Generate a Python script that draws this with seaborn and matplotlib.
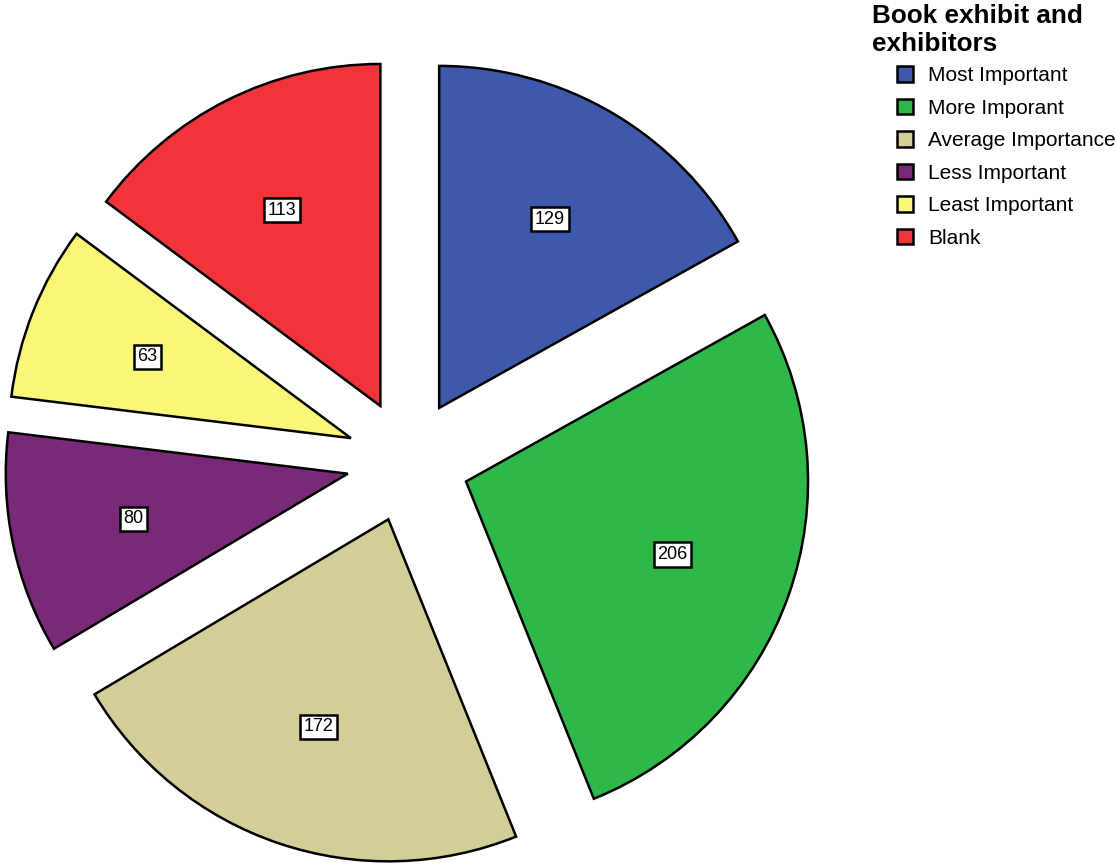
import matplotlib
matplotlib.use('Agg')
import matplotlib.pyplot as plt
import matplotlib.patches as mpatches
import seaborn as sns

# Data
categories = ['Most Important', 'More Imporant', 'Average Importance',
              'Less Important', 'Least Important', 'Blank']
counts = [129, 206, 172, 80, 63, 113]
colors = ['#3e59ac', '#2eb84a', '#d3ce97', '#7a2878', '#f9f777', '#f0343a']

sns.set_theme(style='white')
plt.rcParams['font.family'] = ['Liberation Sans', 'DejaVu Sans']
plt.rcParams['text.color'] = 'black'

fig = plt.figure(figsize=(11.17, 8.65), dpi=100)
ax = fig.add_axes([0, 0, 1, 1])

# pie centre at pixel (408, 461), radius 342 px
ppu = 342.0
cx, cy = 408.0, 461.0
W, H = 1117.0, 865.0

wedges, texts = ax.pie(
    counts, colors=colors, startangle=90, counterclock=False,
    explode=[0.18] * len(counts), labels=[str(c) for c in counts],
    labeldistance=0.64, radius=1.0,
    wedgeprops=dict(edgecolor='black', linewidth=1.8),
    textprops=dict(fontsize=13, color='black', ha='center', va='center'),
)
for t in texts:
    t.set_bbox(dict(boxstyle='square,pad=0.2', facecolor='white',
                    edgecolor='black', linewidth=1.8))

ax.set_xlim(-cx / ppu, (W - cx) / ppu)
ax.set_ylim(-(H - cy) / ppu, cy / ppu)
ax.set_aspect('auto')
ax.axis('off')

# Legend
fig.text(872 / W, 1 - 4 / H, 'Book exhibit and\nexhibitors', fontsize=18.8,
         fontweight='bold', ha='left', va='top', color='black',
         linespacing=1.2)
handles = [mpatches.Patch(facecolor=c, edgecolor='black', linewidth=1.8)
           for c in colors]
leg = fig.legend(handles, categories, loc='upper left',
                 bbox_to_anchor=(897 / W, 1 - 66 / H), frameon=False,
                 fontsize=15, handlelength=0.77, handleheight=0.77,
                 handletextpad=0.72, labelspacing=0.65, borderpad=0,
                 borderaxespad=0)
for t in leg.get_texts():
    t.set_color('black')

fig.savefig('out.png', dpi=100)
